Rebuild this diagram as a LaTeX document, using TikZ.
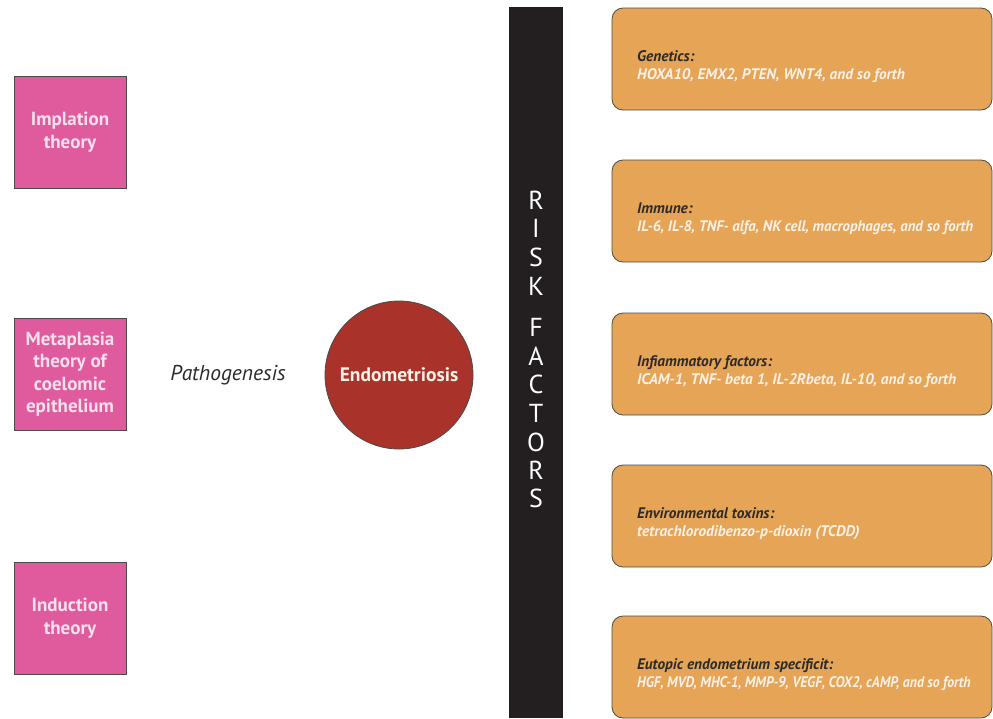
\documentclass[tikz,border=0pt]{standalone}
\usepackage{fontspec}
\usepackage{graphicx}
\setmainfont{PT Sans}
\definecolor{pinkbox}{HTML}{E05A9E}
\definecolor{pinktext}{HTML}{F8E1EC}
\definecolor{circred}{HTML}{A9332A}
\definecolor{orangebox}{HTML}{E6A456}
\definecolor{barblack}{HTML}{231F20}
\definecolor{edgegray}{HTML}{4A4A4A}
\definecolor{titlegray}{HTML}{2B2B2B}
\definecolor{softwhite}{HTML}{FBF1E6}
\tikzset{
  theorybox/.style={draw=edgegray, line width=0.8pt, fill=pinkbox, minimum width=112pt, minimum height=112pt, inner sep=0pt, align=center, text=pinktext, font=\bfseries\fontsize{19}{22.5}\selectfont},
  endocircle/.style={circle, draw=edgegray, line width=0.8pt, fill=circred, minimum size=148pt, inner sep=0pt, text=softwhite, font=\bfseries\fontsize{19.5}{22}\selectfont},
  riskbox/.style={draw=edgegray, line width=0.8pt, fill=orangebox, rounded corners=11pt, minimum width=380pt, minimum height=102pt, inner sep=0pt},
  risktext/.style={anchor=west, align=left, inner sep=0pt, font=\bfseries\itshape\fontsize{15.3}{18}\selectfont, text=softwhite},
  risklabel/.style={text=white, font=\fontsize{26}{26}\selectfont, inner sep=0pt},
  pathtext/.style={font=\itshape\fontsize{21.5}{24}\selectfont, text=titlegray}
}
\newcommand{\rtitle}[1]{\textcolor{titlegray}{#1}}
\newcommand{\narrowline}[2]{\scalebox{#1}[1]{#2}}
\begin{document}
\begin{tikzpicture}[x=1pt,y=-1pt]
\useasboundingbox (0,0) rectangle (993,718);
% theory boxes
\node[theorybox] (impl) at (70,132) {Implation\\theory};
\node[theorybox] (meta) at (70,374) {Metaplasia\\theory of\\coelomic\\epithelium};
\node[theorybox] (indu) at (70,618) {Induction\\theory};
% pathogenesis
\node[pathtext] (path) at (228,375) {Pathogenesis};
% circle
\node[endocircle] (endo) at (399,375) {Endometriosis};
% black bar
\fill[barblack] (509,7) rectangle (563,718);
\foreach \l/\yy [count=\i] in {R/200,I/228,S/257,K/286,F/327,A/356,C/384,T/413,O/442,R/470,S/498}
  \node[risklabel] (rf\i) at (536,\yy) {\l};
% risk boxes
\node[riskbox] (gen) at (802,59) {};
\node[risktext] (gent) at (637,67) {\rtitle{Genetics:}\\HOXA10, EMX2, PTEN, WNT4, and so forth};
\node[riskbox] (imm) at (802,211) {};
\node[risktext] (immt) at (637,219) {\rtitle{Immune:}\\\narrowline{0.97}{IL-6, IL-8, TNF- alfa, NK cell, macrophages, and so forth}};
\node[riskbox] (inf) at (802,364) {};
\node[risktext] (inft) at (637,372) {\rtitle{Infiammatory factors:}\\ICAM-1, TNF- beta 1, IL-2Rbeta, IL-10, and so forth};
\node[riskbox] (env) at (802,516) {};
\node[risktext] (envt) at (637,524) {\rtitle{Environmental toxins:}\\tetrachlorodibenzo-p-dioxin (TCDD)};
\node[riskbox] (eut) at (802,667) {};
\node[risktext] (eutt) at (637,675) {\rtitle{Eutopic endometrium specificit:}\\\narrowline{0.9}{HGF, MVD, MHC-1, MMP-9, VEGF, COX2, cAMP, and so forth}};
\end{tikzpicture}
\end{document}
